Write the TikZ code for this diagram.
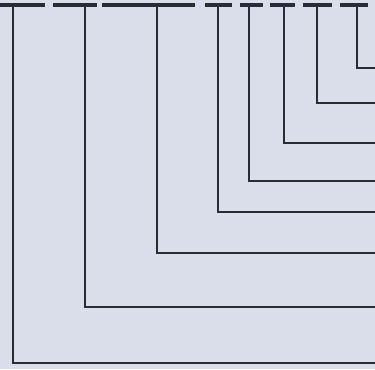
\documentclass[tikz,border=0pt]{standalone}
\usepackage{tikz}
\definecolor{paper}{RGB}{218,222,234}
\definecolor{ink}{RGB}{40,44,52}
\tikzset{
  bracket/.style={draw=ink, line width=1.65pt, line join=miter},
  tick/.style={draw=ink, line width=2pt}
}

\begin{document}
\begin{tikzpicture}[x=0.02cm,y=-0.02cm]
  \useasboundingbox (0,0) rectangle (375,369);
  \clip (0,0) rectangle (375,369);
  \fill[paper] (0,0) rectangle (375,369);
  % top piece from a to b, stem at x, foot at y
  \foreach \a/\b/\x/\y in {0/45/13/363, 53/97/85/307, 102/195/157/253,
      205/232/218/212, 240/263/249/181, 270/295/284/143,
      303/332/317/103, 340/368/357/68} {
    \coordinate (top-\x) at (\x,5);
    \coordinate (foot-\x) at (\x,\y);
    \coordinate (end-\x) at (375,\y);
    \draw[tick] (\a,5) -- (\b,5);
    \draw[bracket] (top-\x) -- (foot-\x) -- (end-\x);
  }
\end{tikzpicture}
\end{document}
